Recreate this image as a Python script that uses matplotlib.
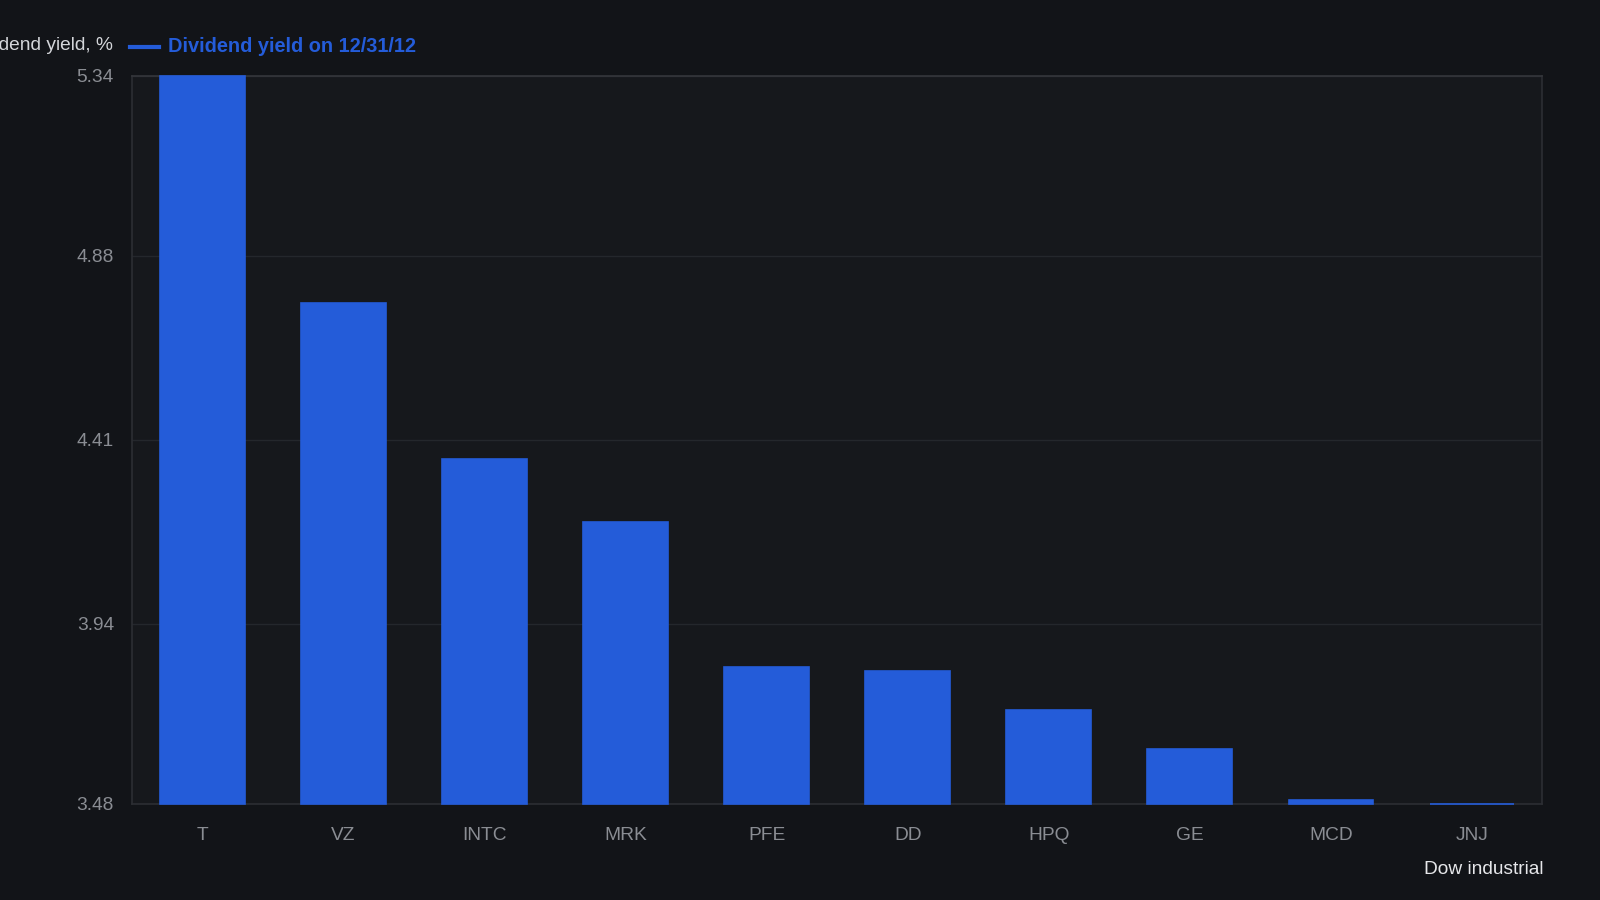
import matplotlib.pyplot as plt
from matplotlib.lines import Line2D

# Dividend yield of Dow industrial stocks on 12/31/12
tickers = ["T", "VZ", "INTC", "MRK", "PFE", "DD", "HPQ", "GE", "MCD", "JNJ"]
yields = [5.34, 4.76, 4.36, 4.20, 3.83, 3.82, 3.72, 3.62, 3.49, 3.48]
y_ticks = [3.48, 3.94, 4.41, 4.88, 5.34]
y_tick_labels = ["3.48", "3.94", "4.41", "4.88", "5.34"]

BG = "#121418"
PANEL = "#16181c"
BAR = "#245cd9"
EDGE = "#2c2e33"
GRID = "#24272c"
TICK = "#8a8d93"

plt.rcParams["font.family"] = ["Liberation Sans", "DejaVu Sans"]

fig = plt.figure(figsize=(16, 9), dpi=100, facecolor=BG)
ax = fig.add_axes([0.0825, 0.107, 0.8815, 0.809])
ax.set_facecolor(PANEL)

base = y_ticks[0]
x = list(range(len(tickers)))
heights = [v - base for v in yields]
ax.bar(x, heights, bottom=base, width=0.6, color=BAR, edgecolor=BAR,
       linewidth=1.2, clip_on=False, zorder=3)

ax.set_xlim(-0.5, len(tickers) - 0.5)
ax.set_ylim(y_ticks[0], y_ticks[-1])
ax.set_xticks(x)
ax.set_xticklabels(tickers)
ax.set_yticks(y_ticks)
ax.set_yticklabels(y_tick_labels)
ax.tick_params(axis="both", length=0, colors=TICK, labelsize=13.8)
ax.tick_params(axis="x", pad=16.5)
ax.tick_params(axis="y", pad=13)
ax.grid(axis="y", color=GRID, linewidth=1, zorder=0)
for s in ax.spines.values():
    s.set_color(EDGE)
    s.set_linewidth(1.2)
ax.spines["top"].set_color("#34363b")

# axis titles (the y title runs off the left edge, as in the source)
fig.text(113 / 1600, 1 - 46 / 900, "Dividend yield, %", ha="right", va="center",
         color="#d4d6da", fontsize=13.8)
fig.text(1543 / 1600, 1 - 869 / 900, "Dow industrial", ha="right", va="center",
         color="#e6e7ea", fontsize=13.8)

# legend
fig.add_artist(Line2D([130 / 1600, 159 / 1600], [1 - 47 / 900, 1 - 47 / 900],
                      color=BAR, linewidth=3))
fig.text(168 / 1600, 1 - 47 / 900, "Dividend yield on 12/31/12", ha="left",
         va="center", color=BAR, fontsize=14.4, fontweight="bold")

plt.savefig("out.png", dpi=100, facecolor=BG)
